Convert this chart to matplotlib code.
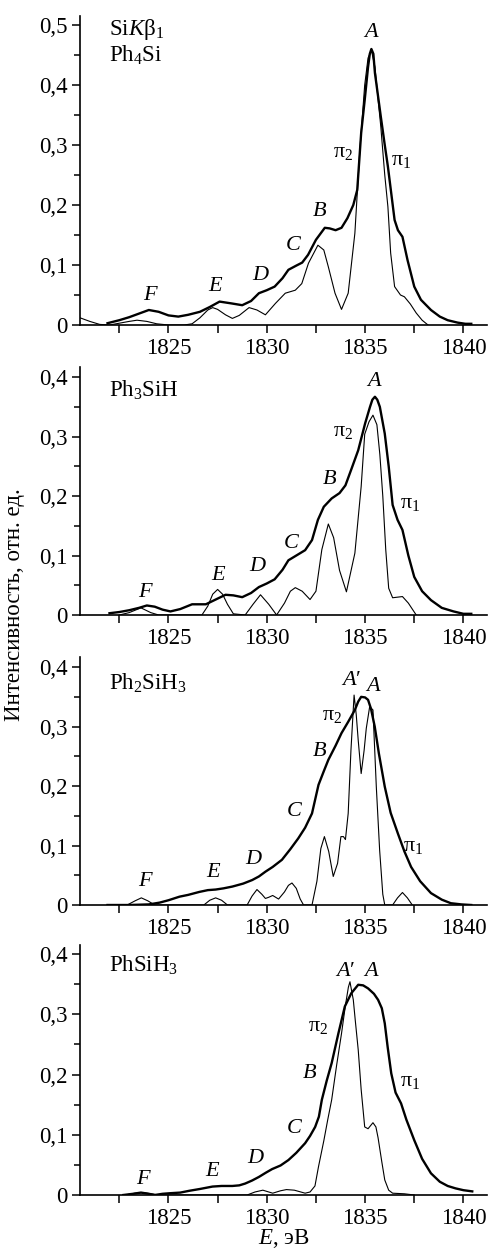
import matplotlib
matplotlib.use('Agg')
import matplotlib.pyplot as plt
from matplotlib.ticker import MultipleLocator, FuncFormatter

plt.rcParams['font.family'] = ['Liberation Serif', 'DejaVu Serif']
plt.rcParams['mathtext.fontset'] = 'custom'
plt.rcParams['mathtext.rm'] = 'Liberation Serif'
plt.rcParams['mathtext.it'] = 'Liberation Serif:italic'

# --- Ph4Si ---
thick1_x = [1821.9, 1822.5, 1823.0, 1823.5, 1824.0, 1824.5, 1825.0, 1825.5, 1826.0, 1826.6,
            1827.1, 1827.6, 1828.2, 1828.75, 1829.2, 1829.6, 1830.0, 1830.4, 1830.8, 1831.1,
            1831.5, 1831.8, 1832.1, 1832.5, 1832.95, 1833.2, 1833.5, 1833.8, 1834.1, 1834.4,
            1834.6, 1834.8, 1834.98, 1835.15, 1835.24, 1835.32, 1835.42, 1835.5, 1835.8, 1836.0,
            1836.16, 1836.5, 1836.67, 1836.9, 1837.16, 1837.5, 1837.84, 1838.35, 1838.8, 1839.2,
            1839.7, 1840.1, 1840.4]
thick1_y = [0.003, 0.008, 0.013, 0.019, 0.025, 0.022, 0.016, 0.014, 0.017, 0.022,
            0.030, 0.039, 0.036, 0.033, 0.040, 0.053, 0.058, 0.064, 0.078, 0.092,
            0.099, 0.104, 0.117, 0.142, 0.162, 0.161, 0.158, 0.162, 0.178, 0.200,
            0.225, 0.320, 0.375, 0.430, 0.452, 0.460, 0.452, 0.420, 0.347, 0.300,
            0.264, 0.175, 0.158, 0.147, 0.108, 0.064, 0.042, 0.025, 0.014, 0.008,
            0.004, 0.002, 0.002]
thin1_x = [1820.5, 1821.0, 1821.5, 1822.0, 1822.5, 1823.0, 1823.4, 1823.9, 1824.4, 1825.0,
           1825.8, 1826.2, 1826.6, 1827.0, 1827.25, 1827.5, 1827.9, 1828.25, 1828.6, 1829.1,
           1829.5, 1829.93, 1830.44, 1830.94, 1831.45, 1831.78, 1832.12, 1832.6, 1832.9, 1833.13,
           1833.47, 1833.8, 1834.14, 1834.48, 1834.73, 1834.98, 1835.15, 1835.32, 1835.5, 1835.8,
           1836.0, 1836.16, 1836.3, 1836.5, 1836.8, 1837.0, 1837.3, 1837.6, 1837.9, 1838.2]
thin1_y = [0.012, 0.006, 0.001, 0.0, 0.003, 0.006, 0.008, 0.006, 0.002, 0.0,
           0.0, 0.002, 0.012, 0.025, 0.029, 0.026, 0.017, 0.011, 0.016, 0.029,
           0.025, 0.017, 0.036, 0.053, 0.058, 0.069, 0.103, 0.133, 0.125, 0.097,
           0.053, 0.026, 0.053, 0.153, 0.290, 0.400, 0.445, 0.458, 0.430, 0.330,
           0.250, 0.197, 0.120, 0.064, 0.050, 0.047, 0.035, 0.020, 0.008, 0.0]

# --- Ph3SiH ---
thick2_x = [1822.0, 1822.5, 1823.0, 1823.5, 1823.9, 1824.3, 1824.7, 1825.1, 1825.6, 1826.2,
            1826.9, 1827.4, 1827.9, 1828.3, 1828.75, 1829.2, 1829.6, 1830.0, 1830.4, 1830.8,
            1831.1, 1831.5, 1831.95, 1832.3, 1832.6, 1832.9, 1833.3, 1833.7, 1834.0, 1834.3,
            1834.65, 1835.0, 1835.25, 1835.37, 1835.5, 1835.62, 1835.75, 1836.0, 1836.2, 1836.4,
            1836.65, 1836.9, 1837.2, 1837.5, 1837.9, 1838.35, 1838.9, 1839.5, 1840.0, 1840.4]
thick2_y = [0.003, 0.005, 0.008, 0.012, 0.016, 0.014, 0.009, 0.006, 0.010, 0.018,
            0.018, 0.026, 0.034, 0.033, 0.030, 0.037, 0.047, 0.053, 0.060, 0.076,
            0.092, 0.100, 0.109, 0.126, 0.160, 0.182, 0.196, 0.205, 0.218, 0.245,
            0.277, 0.322, 0.350, 0.362, 0.367, 0.362, 0.350, 0.305, 0.250, 0.185,
            0.160, 0.143, 0.100, 0.064, 0.040, 0.025, 0.012, 0.006, 0.002, 0.002]
thin2_x = [1822.5, 1823.0, 1823.6, 1824.1, 1824.5, 1826.7, 1827.0, 1827.25, 1827.5, 1827.75,
           1828.0, 1828.3, 1828.9, 1829.3, 1829.68, 1830.1, 1830.5, 1830.9, 1831.2, 1831.45,
           1831.8, 1832.2, 1832.5, 1832.8, 1833.13, 1833.4, 1833.7, 1834.05, 1834.48, 1834.8,
           1834.98, 1835.2, 1835.4, 1835.6, 1835.75, 1835.9, 1836.05, 1836.2, 1836.4, 1836.9,
           1837.2, 1837.6]
thin2_y = [0.0, 0.004, 0.012, 0.004, 0.0, 0.0, 0.015, 0.035, 0.043, 0.035,
           0.018, 0.002, 0.0, 0.018, 0.034, 0.018, 0.0, 0.020, 0.040, 0.046,
           0.040, 0.026, 0.040, 0.110, 0.153, 0.130, 0.075, 0.039, 0.104, 0.216,
           0.304, 0.325, 0.336, 0.320, 0.270, 0.200, 0.110, 0.045, 0.029, 0.031,
           0.020, 0.0]

# --- Ph2SiH3 ---
thick3_x = [1821.9, 1823.0, 1824.0, 1824.55, 1825.0, 1825.56, 1826.0, 1826.57, 1827.0, 1827.4,
            1827.8, 1828.25, 1828.8, 1829.26, 1829.6, 1829.93, 1830.3, 1830.77, 1831.2, 1831.6,
            1831.95, 1832.3, 1832.63, 1832.9, 1833.13, 1833.5, 1833.8, 1834.14, 1834.48, 1834.65,
            1834.8, 1835.0, 1835.15, 1835.3, 1835.49, 1835.7, 1836.0, 1836.3, 1836.67, 1837.0,
            1837.34, 1837.8, 1838.35, 1838.9, 1839.36, 1839.9, 1840.4]
thick3_y = [0.0, 0.0, 0.001, 0.004, 0.008, 0.014, 0.017, 0.022, 0.025, 0.026,
            0.028, 0.031, 0.036, 0.042, 0.048, 0.056, 0.064, 0.076, 0.094, 0.112,
            0.130, 0.154, 0.202, 0.225, 0.244, 0.268, 0.289, 0.308, 0.328, 0.342,
            0.350, 0.349, 0.345, 0.330, 0.300, 0.255, 0.199, 0.155, 0.120, 0.090,
            0.064, 0.040, 0.020, 0.009, 0.003, 0.001, 0.0]
thin3_x = [1822.9, 1823.3, 1823.62, 1823.95, 1824.3, 1826.8, 1827.1, 1827.4, 1827.7, 1828.0,
           1829.0, 1829.25, 1829.5, 1829.75, 1829.93, 1830.1, 1830.3, 1830.45, 1830.6, 1830.9,
           1831.1, 1831.28, 1831.5, 1831.7, 1831.87, 1832.3, 1832.55, 1832.75, 1832.93, 1833.15,
           1833.38, 1833.6, 1833.77, 1833.9, 1834.0, 1834.14, 1834.28, 1834.44, 1834.55, 1834.65,
           1834.8, 1834.95, 1835.06, 1835.23, 1835.4, 1835.57, 1835.74, 1835.9, 1836.0, 1836.4,
           1836.65, 1836.9, 1837.15, 1837.4]
thin3_y = [0.0, 0.007, 0.012, 0.007, 0.0, 0.0, 0.008, 0.012, 0.008, 0.0,
           0.0, 0.015, 0.026, 0.018, 0.011, 0.013, 0.016, 0.013, 0.010, 0.022,
           0.033, 0.037, 0.028, 0.010, 0.0, 0.0, 0.040, 0.095, 0.115, 0.090,
           0.048, 0.070, 0.115, 0.115, 0.110, 0.154, 0.260, 0.353, 0.320, 0.277,
           0.221, 0.260, 0.297, 0.333, 0.328, 0.199, 0.092, 0.018, 0.0, 0.0,
           0.012, 0.021, 0.012, 0.0]

# --- PhSiH3 ---
thick4_x = [1822.7, 1823.2, 1823.6, 1824.0, 1824.3, 1824.7, 1825.1, 1825.6, 1826.06, 1826.6,
            1827.24, 1827.7, 1828.25, 1828.6, 1828.9, 1829.25, 1829.6, 1829.95, 1830.27, 1830.7,
            1831.1, 1831.5, 1831.95, 1832.2, 1832.46, 1832.65, 1832.8, 1833.05, 1833.3, 1833.64,
            1833.97, 1834.3, 1834.65, 1834.9, 1835.15, 1835.45, 1835.66, 1835.85, 1836.0, 1836.15,
            1836.33, 1836.55, 1836.83, 1837.1, 1837.5, 1837.9, 1838.35, 1838.8, 1839.2, 1839.6,
            1840.0, 1840.45]
thick4_y = [0.0, 0.002, 0.004, 0.002, 0.0, 0.002, 0.003, 0.004, 0.007, 0.010,
            0.014, 0.015, 0.015, 0.016, 0.019, 0.024, 0.030, 0.037, 0.043, 0.049,
            0.058, 0.070, 0.086, 0.098, 0.113, 0.130, 0.158, 0.190, 0.219, 0.268,
            0.313, 0.335, 0.349, 0.348, 0.343, 0.334, 0.324, 0.310, 0.285, 0.245,
            0.202, 0.170, 0.152, 0.125, 0.091, 0.060, 0.036, 0.022, 0.015, 0.011,
            0.008, 0.006]
thin4_x = [1822.8, 1823.3, 1823.7, 1824.1, 1824.5, 1829.0, 1829.4, 1829.8, 1830.3, 1830.7,
           1831.0, 1831.4, 1831.95, 1832.2, 1832.45, 1832.63, 1832.9, 1833.1, 1833.3, 1833.55,
           1833.8, 1834.0, 1834.15, 1834.23, 1834.4, 1834.5, 1834.65, 1834.8, 1834.98, 1835.15,
           1835.4, 1835.55, 1835.66, 1835.85, 1836.0, 1836.2, 1836.4, 1837.0, 1837.5]
thin4_y = [0.0, 0.003, 0.004, 0.002, 0.0, 0.0, 0.005, 0.008, 0.003, 0.007,
           0.009, 0.008, 0.003, 0.005, 0.015, 0.047, 0.090, 0.125, 0.158, 0.215,
           0.268, 0.315, 0.345, 0.354, 0.324, 0.290, 0.241, 0.175, 0.113, 0.110,
           0.120, 0.113, 0.095, 0.055, 0.025, 0.008, 0.003, 0.002, 0.0]

panel_names = [r'Si$K$β$_1$' + '\n' + r'Ph$_4$Si', r'Ph$_3$SiH', r'Ph$_2$SiH$_3$', r'PhSiH$_3$']
panel_name_y = [0.472, 0.378, 0.373, 0.382]
y_tops = [0.515, 0.417, 0.417, 0.415]

# peak labels: (text, x, y) per panel
labels1 = [('$A$', 1835.3, 0.487), ('π$_2$', 1833.9, 0.287), ('π$_1$', 1836.85, 0.275),
           ('$B$', 1832.7, 0.189), ('$C$', 1831.36, 0.133), ('$D$', 1829.7, 0.083),
           ('$E$', 1827.4, 0.064), ('$F$', 1824.1, 0.050)]
labels2 = [('$A$', 1835.49, 0.392), ('π$_2$', 1833.9, 0.308), ('$B$', 1833.2, 0.227),
           ('π$_1$', 1837.3, 0.188), ('$C$', 1831.25, 0.120), ('$D$', 1829.56, 0.081),
           ('$E$', 1827.58, 0.067), ('$F$', 1823.87, 0.037)]
labels3 = [('$A$′', 1834.3, 0.378), ('$A$', 1835.45, 0.367), ('π$_2$', 1833.3, 0.319),
           ('$B$', 1832.66, 0.258), ('$C$', 1831.4, 0.158), ('π$_1$', 1837.45, 0.098),
           ('$D$', 1829.34, 0.076), ('$E$', 1827.32, 0.054), ('$F$', 1823.87, 0.039)]
labels4 = [('$A$′', 1833.97, 0.371), ('$A$', 1835.32, 0.371), ('π$_2$', 1832.6, 0.279),
           ('$B$', 1832.2, 0.202), ('π$_1$', 1837.3, 0.188), ('$C$', 1831.4, 0.111),
           ('$D$', 1829.46, 0.061), ('$E$', 1827.24, 0.039), ('$F$', 1823.74, 0.025)]

thick = [(thick1_x, thick1_y), (thick2_x, thick2_y), (thick3_x, thick3_y), (thick4_x, thick4_y)]
thin = [(thin1_x, thin1_y), (thin2_x, thin2_y), (thin3_x, thin3_y), (thin4_x, thin4_y)]
labels = [labels1, labels2, labels3, labels4]

W, H = 491, 1252
fig = plt.figure(figsize=(W / 100, H / 100), dpi=100)

# axes boxes in pixels: (y of zero line, y of top)
boxes = [(325, 16), (615, 367), (905, 657), (1195, 945)]
x_left, x_right = 80, 487


def fmt(v, pos):
    if abs(v) < 1e-9:
        return '0'
    return f'{v:.1f}'.replace('.', ',')


for i in range(4):
    y0, y1 = boxes[i]
    ax = fig.add_axes([x_left / W, 1 - y0 / H, (x_right - x_left) / W, (y0 - y1) / H])
    ax.plot(*thin[i], color='black', lw=0.8)
    ax.plot(*thick[i], color='black', lw=1.7)
    ax.set_xlim(1820.5, 1841.2)
    ax.set_ylim(0, y_tops[i])
    ax.spines['top'].set_visible(False)
    ax.spines['right'].set_visible(False)
    ax.spines['left'].set_linewidth(1.2)
    ax.spines['bottom'].set_linewidth(1.2)
    ax.xaxis.set_major_locator(MultipleLocator(5))
    ax.xaxis.set_minor_locator(MultipleLocator(2.5))
    ax.yaxis.set_major_locator(MultipleLocator(0.1))
    ax.yaxis.set_minor_locator(MultipleLocator(0.05))
    ax.yaxis.set_major_formatter(FuncFormatter(fmt))
    ax.tick_params(axis='both', which='major', direction='out', length=6, width=1.1,
                   labelsize=16.5, pad=3)
    ax.tick_params(axis='x', which='minor', direction='out', length=6, width=1.1)
    ax.tick_params(axis='y', which='minor', direction='out', length=4, width=1.1)
    ax.text(1822.0, panel_name_y[i], panel_names[i], fontsize=16.5, ha='left', va='center',
            linespacing=1.1)
    for txt, lx, ly in labels[i]:
        ax.text(lx, ly, txt, fontsize=16, ha='center', va='center')
    if i == 3:
        ax.set_xlabel('$E$, эВ', fontsize=16.5, labelpad=-1)

fig.text(15 / W, 1 - 605 / H, 'Интенсивность, отн. ед.', rotation=90, fontsize=16.5,
         ha='center', va='center')

fig.savefig('out.png', dpi=100)
